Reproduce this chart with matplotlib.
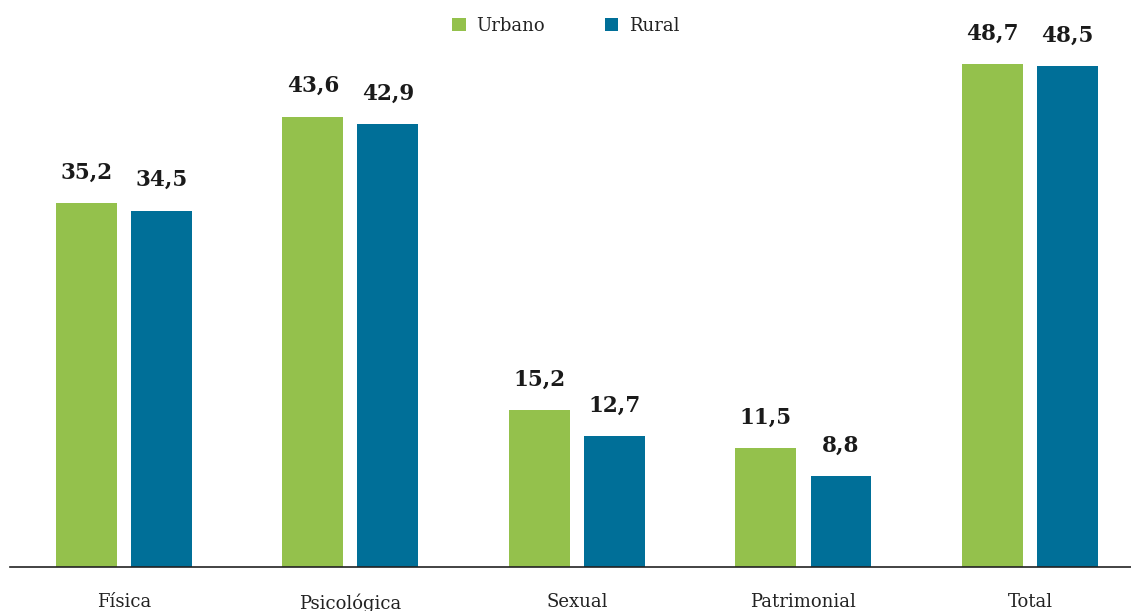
import matplotlib
matplotlib.use("Agg")
import matplotlib.pyplot as plt
import numpy as np

categories = ["Física", "Psicológica", "Sexual", "Patrimonial", "Total"]
urbano = [35.2, 43.6, 15.2, 11.5, 48.7]
rural = [34.5, 42.9, 12.7, 8.8, 48.5]
series_names = ["Urbano", "Rural"]

green = "#94C14C"
blue = "#006F98"

fig = plt.figure(figsize=(11.31, 6.11), dpi=100)
ax = fig.add_axes([10/1131, 44/611, 1121/1131, 567/611])

x = np.arange(len(categories))
w = 0.269
off = 0.1656
b1 = ax.bar(x - off, urbano, w, color=green, label=series_names[0])
b2 = ax.bar(x + off, rural, w, color=blue, label=series_names[1])

def fmt(v):
    return f"{v:.1f}".replace(".", ",")

for bars, vals in ((b1, urbano), (b2, rural)):
    for r, v in zip(bars, vals):
        ax.annotate(fmt(v), (r.get_x() + r.get_width()/2, v), xytext=(0, 14),
                    textcoords="offset points", ha="center", va="bottom",
                    fontsize=15.5, fontweight="heavy", family="DejaVu Serif", color="#1a1a1a")

ax.set_xlim(-0.503, 4.446)
ax.set_ylim(0, 54.9)
ax.set_xticks(x)
ax.set_xticklabels(categories, family="DejaVu Serif", fontsize=13, color="#222222")
ax.tick_params(axis="x", length=0, pad=19)
ax.set_yticks([])
for s in ["top", "right", "left"]:
    ax.spines[s].set_visible(False)
ax.spines["bottom"].set_color("#222222")
ax.spines["bottom"].set_linewidth(1.2)

leg = ax.legend(loc="center", bbox_to_anchor=(556/1121, 1 - 26/567), ncol=2, frameon=False,
                handlelength=0.75, handleheight=0.75, columnspacing=3.3, handletextpad=0.6,
                prop={"family": "DejaVu Serif", "size": 13})
for t in leg.get_texts():
    t.set_color("#222222")

fig.savefig("out.png", dpi=100)
